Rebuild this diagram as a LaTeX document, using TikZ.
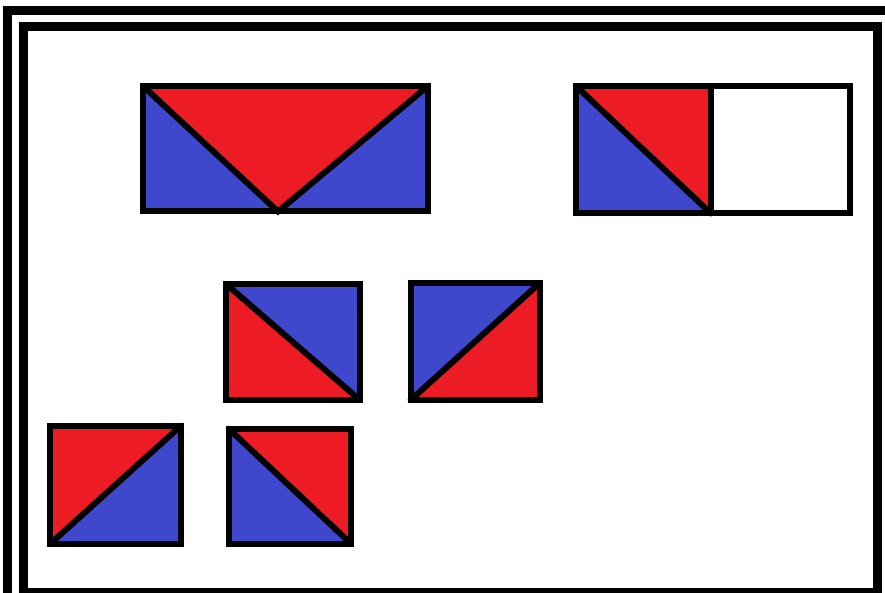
\documentclass[tikz,border=0pt]{standalone}
\definecolor{pred}{HTML}{ED1C24}
\definecolor{pblue}{HTML}{3F48CC}
\tikzset{
  frameline/.style={draw=black,line width=9pt},
  boxline/.style={draw=black,line width=6pt,line join=miter},
  diag/.style={draw=black,line width=6pt,line cap=round},
  redfill/.style={fill=pred},
  bluefill/.style={fill=pblue}
}
\begin{document}
\begin{tikzpicture}[x=1pt,y=-1pt]
\useasboundingbox (0,0) rectangle (885,593);
\clip (0,0) rectangle (885,593);
\fill[white] (0,0) rectangle (885,593);
% frames
\draw[frameline] (7.5,10.5) rectangle (900,610);
\draw[frameline] (23.5,26.5) rectangle (877.5,592.5);
% top-left wide rectangle with V
\coordinate (a1) at (143,86);
\coordinate (a2) at (428,86);
\coordinate (a3) at (428,211.5);
\coordinate (a4) at (143,211.5);
\coordinate (av) at (278,211.5);
\fill[bluefill] (a1) rectangle (a3);
\fill[redfill] (a1) -- (a2) -- (av) -- cycle;
\draw[diag] (a1) -- (av) -- (a2);
\draw[boxline] (a1) rectangle (a3);
% top-right rectangle
\coordinate (b1) at (576,86);
\coordinate (b2) at (850,213.5);
\coordinate (bt) at (711,86);
\coordinate (bb) at (711,213.5);
\fill[bluefill] (b1) rectangle (bb);
\fill[redfill] (b1) -- (bt) -- (bb) -- cycle;
\draw[diag] (b1) -- (bb);
\draw[boxline] (bt) -- (bb);
\draw[boxline] (b1) rectangle (b2);
% middle square 1
\coordinate (c1) at (226,284);
\coordinate (c2) at (359.7,284);
\coordinate (c3) at (359.7,400);
\fill[redfill] (c1) rectangle (c3);
\fill[bluefill] (c1) -- (c2) -- (c3) -- cycle;
\draw[diag] (c1) -- (c3);
\draw[boxline] (c1) rectangle (c3);
% middle square 2
\coordinate (d1) at (410.7,283);
\coordinate (d2) at (539.7,283);
\coordinate (d3) at (539.7,400);
\coordinate (d4) at (410.7,400);
\fill[redfill] (d1) rectangle (d3);
\fill[bluefill] (d1) -- (d2) -- (d4) -- cycle;
\draw[diag] (d4) -- (d2);
\draw[boxline] (d1) rectangle (d3);
% bottom square 1
\coordinate (e1) at (50.3,425.7);
\coordinate (e2) at (181,425.7);
\coordinate (e3) at (181,543.7);
\coordinate (e4) at (50.3,543.7);
\fill[bluefill] (e1) rectangle (e3);
\fill[redfill] (e1) -- (e2) -- (e4) -- cycle;
\draw[diag] (e4) -- (e2);
\draw[boxline] (e1) rectangle (e3);
% bottom square 2
\coordinate (f1) at (228.7,428.7);
\coordinate (f2) at (351,428.7);
\coordinate (f3) at (351,543.7);
\fill[bluefill] (f1) rectangle (f3);
\fill[redfill] (f1) -- (f2) -- (f3) -- cycle;
\draw[diag] (f1) -- (f3);
\draw[boxline] (f1) rectangle (f3);
\end{tikzpicture}
\end{document}
